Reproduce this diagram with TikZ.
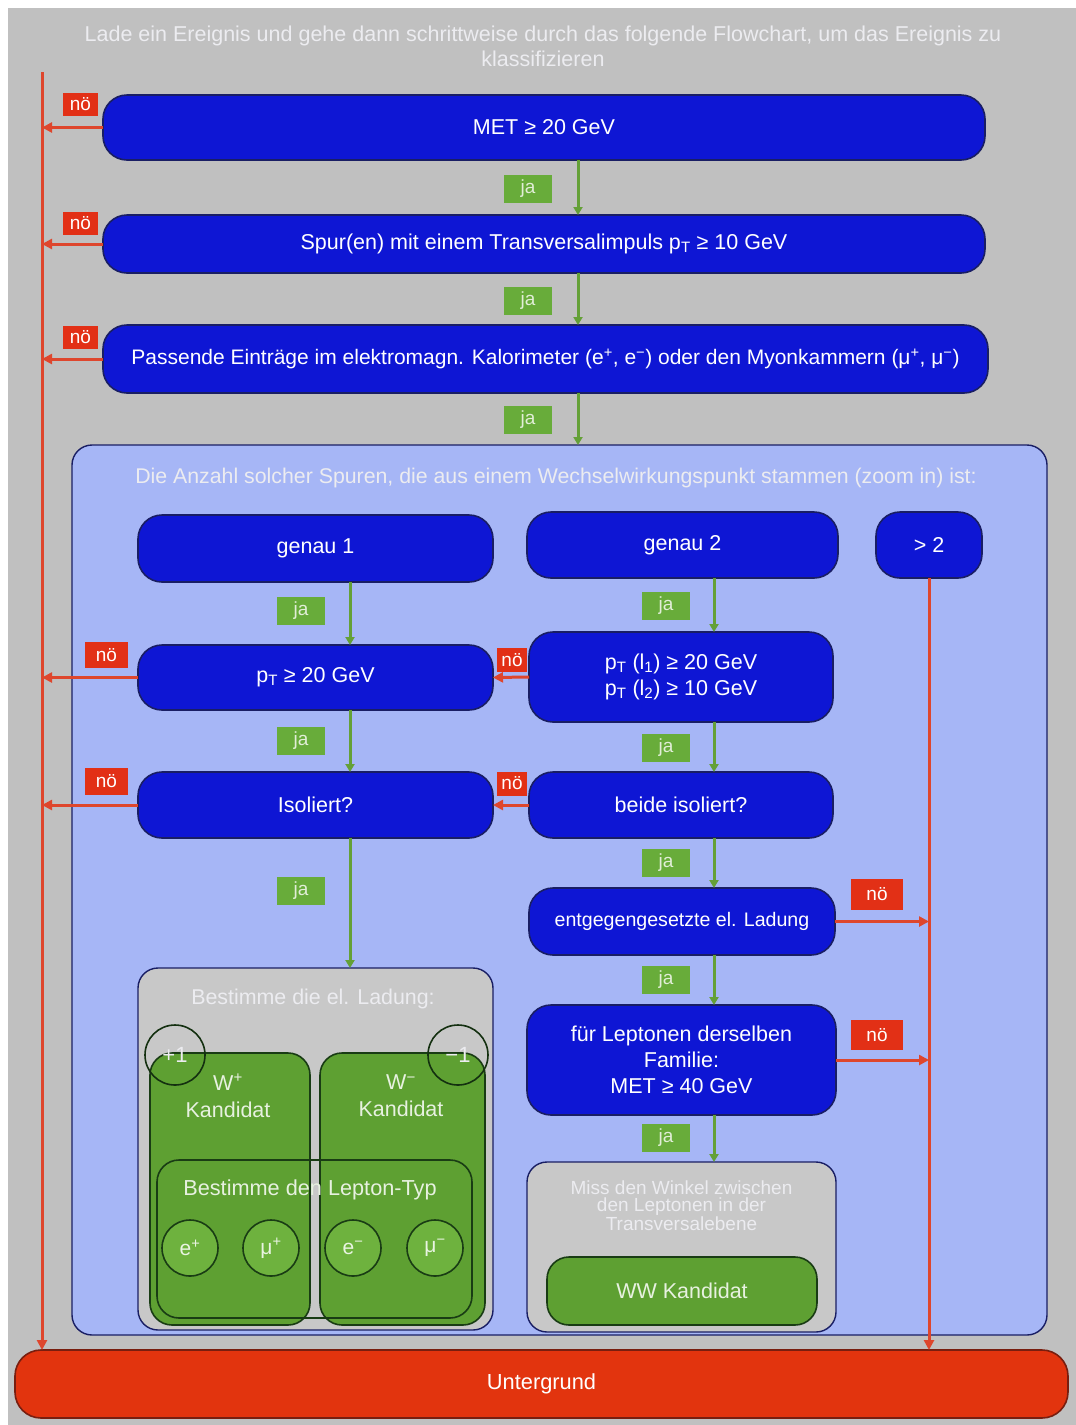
\documentclass[tikz,border=0pt]{standalone}
\usepackage{fontspec}
\setmainfont{Liberation Sans}
\usetikzlibrary{arrows.meta,calc}
\definecolor{bg}{RGB}{192,192,192}
\definecolor{boxblue}{RGB}{14,22,212}
\definecolor{navy}{RGB}{25,30,100}
\definecolor{panel}{RGB}{166,182,246}
\definecolor{nored}{RGB}{226,48,22}
\definecolor{arrred}{RGB}{222,70,45}
\definecolor{jagreen}{RGB}{104,172,58}
\definecolor{arrgreen}{RGB}{100,160,55}
\definecolor{wgreen}{RGB}{94,160,50}
\definecolor{cgreen}{RGB}{110,178,62}
\definecolor{dkgreen}{RGB}{25,60,20}
\definecolor{lgray}{RGB}{200,200,200}
\definecolor{unred}{RGB}{226,52,14}
\definecolor{dkred}{RGB}{120,30,15}
\definecolor{softw}{RGB}{236,236,240}
\begin{document}
\begin{tikzpicture}[x=1pt,y=-1pt,
  every node/.style={inner sep=0pt, outer sep=0pt},
  bbox/.style={draw=navy, line width=1.6pt, fill=boxblue, rounded corners=24pt, text=white, align=center, font=\fontsize{21.5}{26}\selectfont},
  nolab/.style={fill=nored, text=white, font=\fontsize{19}{19}\selectfont},
  jalab/.style={fill=jagreen, text=white!80!jagreen, minimum width=48pt, minimum height=28pt, font=\fontsize{19}{19}\selectfont},
  rarr/.style={draw=arrred, line width=3pt, -{Triangle[length=10pt,width=10pt]}},
  garr/.style={draw=arrgreen, line width=3pt, -{Triangle[length=8pt,width=9pt]}},
  graybox/.style={draw=navy, line width=1.4pt, fill=lgray, rounded corners=20pt},
  greenbox/.style={draw=dkgreen, line width=1.6pt, fill=wgreen, rounded corners=22pt},
  lepcirc/.style={circle, draw=dkgreen, line width=1.6pt, fill=cgreen, minimum size=56pt, text=white!85!cgreen, font=\fontsize{21}{21}\selectfont},
  chcirc/.style={circle, draw=dkgreen!80!black, line width=1.6pt, minimum size=60pt, text=softw, font=\fontsize{22}{22}\selectfont},
  paneltext/.style={text=softw, font=\fontsize{21.3}{25}\selectfont, align=center},
]
\useasboundingbox (0,0) rectangle (1076,1425);
\fill[white] (0,0) rectangle (1076,1425);
\fill[bg] (8,8) rectangle (1076,1425);

% header
\node[paneltext, font=\fontsize{21.5}{25}\selectfont] (head) at (543,46) {Lade ein Ereignis und gehe dann schrittweise durch das folgende Flowchart, um das Ereignis zu\\klassifizieren};

% panel
\node[draw=navy, line width=1.4pt, fill=panel, rounded corners=20pt, minimum width=975pt, minimum height=890pt] (panel) at (559.5,890) {};
\node[paneltext] (ptext) at (556,478) {Die Anzahl solcher Spuren, die aus einem Wechselwirkungspunkt stammen (zoom in) ist:};

% top boxes
\node[bbox, minimum width=882pt, minimum height=65pt] (b1) at (544,127.5) {MET ≥ 20 GeV};
\node[bbox, minimum width=882pt, minimum height=58pt] (b2) at (544,244) {Spur(en) mit einem Transversalimpuls p\textsubscript{T} ≥ 10 GeV};
\node[bbox, minimum width=885pt, minimum height=68pt, font=\fontsize{21}{26}\selectfont] (b3) at (545.5,359) {Passende Einträge im elektromagn. Kalorimeter (e\textsuperscript{+}, e\textsuperscript{−}) oder den Myonkammern (μ\textsuperscript{+}, μ\textsuperscript{−})};

% inner boxes
\node[bbox, minimum width=355pt, minimum height=67pt] (g1) at (315.5,548.5) {genau 1};
\node[bbox, minimum width=311pt, minimum height=66pt] (g2) at (682.5,545) {genau 2};
\node[bbox, minimum width=106pt, minimum height=66pt] (g3) at (929,545) {> 2};
\node[bbox, minimum width=355pt, minimum height=65pt] (pt1) at (315.5,677.5) {p\textsubscript{T} ≥ 20 GeV};
\node[bbox, minimum width=304pt, minimum height=90pt] (pt2) at (681,677) {p\textsubscript{T} (l\textsubscript{1}) ≥ 20 GeV\\p\textsubscript{T} (l\textsubscript{2}) ≥ 10 GeV};
\node[bbox, minimum width=355pt, minimum height=66pt] (iso1) at (315.5,805) {Isoliert?};
\node[bbox, minimum width=304pt, minimum height=66pt] (iso2) at (681,805) {beide isoliert?};
\node[bbox, minimum width=306pt, minimum height=67pt, font=\fontsize{19.6}{24}\selectfont] (entg) at (682,921.5) {entgegengesetzte el. Ladung};
\node[bbox, minimum width=309pt, minimum height=110pt] (fam) at (681.5,1060) {für Leptonen derselben\\Familie:\\MET ≥ 40 GeV};

% angle box
\node[graybox, minimum width=309pt, minimum height=170pt] (miss) at (681.5,1247) {};
\node[paneltext, font=\fontsize{19}{17}\selectfont] (misstext) at (681.5,1206) {Miss den Winkel zwischen\\den Leptonen in der\\Transversalebene};
\node[greenbox, minimum width=270pt, minimum height=68pt, text=white!85!wgreen, font=\fontsize{21.5}{21}\selectfont] (ww) at (682,1291) {WW Kandidat};

% charge box
\node[graybox, minimum width=355pt, minimum height=362pt] (best) at (315.5,1149) {};
\node[paneltext, font=\fontsize{21.4}{22}\selectfont] (besttext) at (313,999) {Bestimme die el. Ladung:};
\node[greenbox, minimum width=160pt, minimum height=272pt] (wp) at (230,1189) {};
\node[greenbox, minimum width=165pt, minimum height=272pt] (wm) at (402.5,1189) {};
\node[text=white!85!wgreen, font=\fontsize{21.5}{27}\selectfont, align=center] (wptext) at (228,1096) {W\textsuperscript{+}\\Kandidat};
\node[text=white!85!wgreen, font=\fontsize{21.5}{27}\selectfont, align=center] (wmtext) at (401,1096) {W\textsuperscript{−}\\Kandidat};
\node[chcirc] (cp) at (175,1055) {+1};
\node[chcirc] (cm) at (458,1055) {−1};
\node[draw=dkgreen, line width=1.6pt, rounded corners=22pt, minimum width=315pt, minimum height=158pt] (lep) at (314.5,1239) {};
\node[text=white!85!wgreen, font=\fontsize{21.7}{22}\selectfont] (leptext) at (310,1190) {Bestimme den Lepton-Typ};
\node[lepcirc] (ep) at (190,1248) {e\textsuperscript{+}};
\node[lepcirc] (mp) at (271,1248) {μ\textsuperscript{+}};
\node[lepcirc] (em) at (353,1248) {e\textsuperscript{−}};
\node[lepcirc] (mm) at (435,1248) {μ\textsuperscript{−}};

% background node
\node[draw=dkred, line width=1.6pt, fill=unred, rounded corners=26pt, minimum width=1053pt, minimum height=68pt, text=white, font=\fontsize{21.8}{22}\selectfont] (unter) at (541.5,1384) {Untergrund};

% coordinates for lines
\coordinate (ltop) at (42,72);
\coordinate (ax) at (578,0);
\coordinate (lx) at (350,0);
\coordinate (rx) at (714,0);

% red lines
\draw[rarr] (ltop) -- (ltop |- unter.north);
\draw[rarr] (g3.south) -- (g3.south |- unter.north);
\draw[rarr] (b1.west) -- (b1.west -| ltop);
\draw[rarr] (b2.west) -- (b2.west -| ltop);
\draw[rarr] (b3.west) -- (b3.west -| ltop);
\draw[rarr] (pt1.west) -- (pt1.west -| ltop);
\draw[rarr] (iso1.west) -- (iso1.west -| ltop);
\draw[rarr] (pt2.west) -- (pt1.east);
\draw[rarr] (iso2.west) -- (iso1.east);
\draw[rarr] (entg.east) -- (entg.east -| g3.south);
\draw[rarr] (fam.east) -- (fam.east -| g3.south);

% green arrows
\draw[garr] (b1.south -| ax) -- (b2.north -| ax);
\draw[garr] (b2.south -| ax) -- (b3.north -| ax);
\draw[garr] (b3.south -| ax) -- (panel.north -| ax);
\draw[garr] (g1.south -| lx) -- (pt1.north -| lx);
\draw[garr] (pt1.south -| lx) -- (iso1.north -| lx);
\draw[garr] (iso1.south -| lx) -- (best.north -| lx);
\draw[garr] (g2.south -| rx) -- (pt2.north -| rx);
\draw[garr] (pt2.south -| rx) -- (iso2.north -| rx);
\draw[garr] (iso2.south -| rx) -- (entg.north -| rx);
\draw[garr] (entg.south -| rx) -- (fam.north -| rx);
\draw[garr] (fam.south -| rx) -- (miss.north -| rx);

% no labels
\node[nolab, minimum width=35pt, minimum height=23pt] (n1) at (80.5,104.5) {nö};
\node[nolab, minimum width=35pt, minimum height=23pt] (n2) at (80.5,223.5) {nö};
\node[nolab, minimum width=35pt, minimum height=23pt] (n3) at (80.5,337.5) {nö};
\node[nolab, minimum width=43pt, minimum height=26pt] (n4) at (106.5,655) {nö};
\node[nolab, minimum width=30pt, minimum height=24pt] (n5) at (512,660) {nö};
\node[nolab, minimum width=43pt, minimum height=27pt] (n6) at (106.5,781.5) {nö};
\node[nolab, minimum width=30pt, minimum height=24pt] (n7) at (512,783.5) {nö};
\node[nolab, minimum width=52pt, minimum height=31pt] (n8) at (877,894.5) {nö};
\node[nolab, minimum width=52pt, minimum height=30pt] (n9) at (877,1035) {nö};

% ja labels
\node[jalab] (j1) at (528,189) {ja};
\node[jalab] (j2) at (528,301) {ja};
\node[jalab] (j3) at (528,420) {ja};
\node[jalab] (j4) at (301,610.5) {ja};
\node[jalab] (j5) at (666,606) {ja};
\node[jalab] (j6) at (301,740.5) {ja};
\node[jalab] (j7) at (666,748) {ja};
\node[jalab] (j8) at (301,890.5) {ja};
\node[jalab] (j9) at (666,863) {ja};
\node[jalab] (j10) at (666,980) {ja};
\node[jalab] (j11) at (666,1138) {ja};
\end{tikzpicture}
\end{document}
